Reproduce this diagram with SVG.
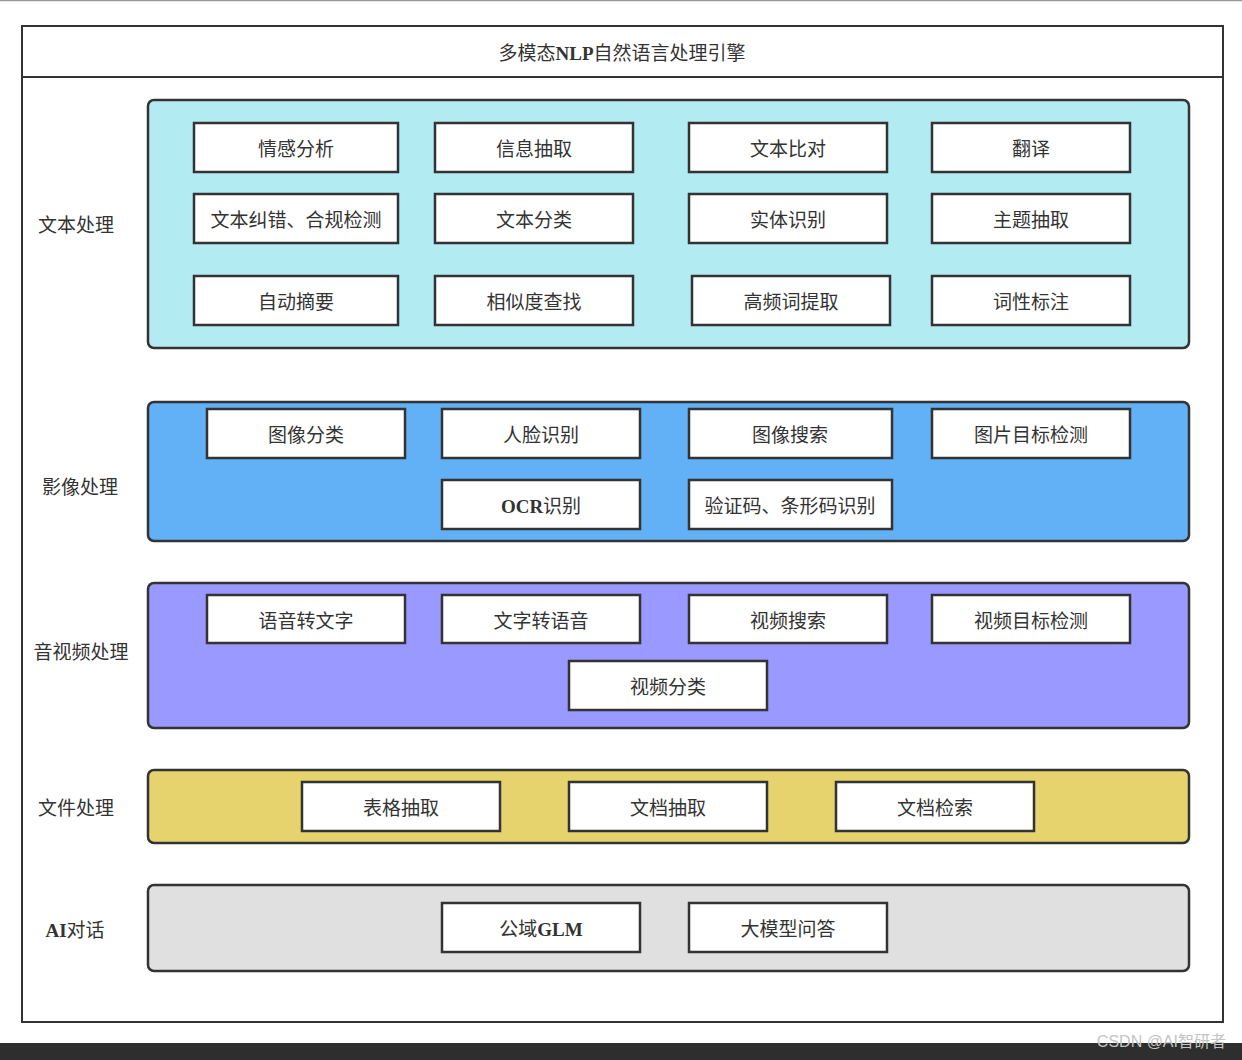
<svg xmlns="http://www.w3.org/2000/svg" width="1242" height="1060" viewBox="0 0 1242 1060">
<style>
text{font-family:"Liberation Serif","Noto Sans CJK SC",serif;font-size:19px;fill:#333;text-anchor:middle;dominant-baseline:central}
.lat{font-weight:bold}
.sec{stroke:#333;stroke-width:2.5}
.box{fill:#fff;stroke:#333;stroke-width:2.5}
.wm{font-family:"Liberation Sans","Noto Sans CJK SC",sans-serif;font-size:16px;fill:#c4c4c4;text-anchor:end}
</style>
<rect width="1242" height="1060" fill="#fff"/>
<line x1="0" y1="0.5" x2="1242" y2="0.5" stroke="#999" stroke-width="1.5"/>
<rect x="0" y="1043" width="1242" height="17" fill="#2e2e2e"/>
<g id="frame">
<rect x="22" y="26" width="1201" height="996" fill="none" stroke="#333" stroke-width="2"/>
<line x1="22" y1="77" x2="1223" y2="77" stroke="#333" stroke-width="2"/>
<text x="622" y="53">多模态<tspan class="lat">NLP</tspan>自然语言处理引擎</text>
</g>
<g id="sec-text">
<rect class="sec" x="148" y="100" width="1041" height="248" rx="6" fill="#b3ebf2"/>
<text x="76" y="225">文本处理</text>
</g>
<g id="sec-image">
<rect class="sec" x="148" y="402" width="1041" height="139" rx="6" fill="#62b0f5"/>
<text x="80" y="487">影像处理</text>
</g>
<g id="sec-av">
<rect class="sec" x="148" y="583" width="1041" height="145" rx="6" fill="#9999ff"/>
<text x="81" y="652">音视频处理</text>
</g>
<g id="sec-file">
<rect class="sec" x="148" y="770" width="1041" height="73" rx="6" fill="#e6d36e"/>
<text x="76" y="808">文件处理</text>
</g>
<g id="sec-ai">
<rect class="sec" x="148" y="885" width="1041" height="86" rx="6" fill="#e0e0e0"/>
<text x="75" y="930"><tspan class="lat">AI</tspan>对话</text>
</g>
<g id="n1"><rect class="box" x="194" y="123" width="204" height="49"/><text x="296" y="149">情感分析</text></g>
<g id="n2"><rect class="box" x="435" y="123" width="198" height="49"/><text x="534" y="149">信息抽取</text></g>
<g id="n3"><rect class="box" x="689" y="123" width="198" height="49"/><text x="788" y="149">文本比对</text></g>
<g id="n4"><rect class="box" x="932" y="123" width="198" height="49"/><text x="1031" y="149">翻译</text></g>
<g id="n5"><rect class="box" x="194" y="194" width="204" height="49"/><text x="296" y="220">文本纠错、合规检测</text></g>
<g id="n6"><rect class="box" x="435" y="194" width="198" height="49"/><text x="534" y="220">文本分类</text></g>
<g id="n7"><rect class="box" x="689" y="194" width="198" height="49"/><text x="788" y="220">实体识别</text></g>
<g id="n8"><rect class="box" x="932" y="194" width="198" height="49"/><text x="1031" y="220">主题抽取</text></g>
<g id="n9"><rect class="box" x="194" y="276" width="204" height="49"/><text x="296" y="302">自动摘要</text></g>
<g id="n10"><rect class="box" x="435" y="276" width="198" height="49"/><text x="534" y="302">相似度查找</text></g>
<g id="n11"><rect class="box" x="692" y="276" width="198" height="49"/><text x="791" y="302">高频词提取</text></g>
<g id="n12"><rect class="box" x="932" y="276" width="198" height="49"/><text x="1031" y="302">词性标注</text></g>
<g id="n13"><rect class="box" x="207" y="409" width="198" height="49"/><text x="306" y="435">图像分类</text></g>
<g id="n14"><rect class="box" x="442" y="409" width="198" height="49"/><text x="541" y="435">人脸识别</text></g>
<g id="n15"><rect class="box" x="689" y="409" width="203" height="49"/><text x="790" y="435">图像搜索</text></g>
<g id="n16"><rect class="box" x="932" y="409" width="198" height="49"/><text x="1031" y="435">图片目标检测</text></g>
<g id="n17"><rect class="box" x="442" y="480" width="198" height="49"/><text x="541" y="506"><tspan class="lat">OCR</tspan>识别</text></g>
<g id="n18"><rect class="box" x="689" y="480" width="203" height="49"/><text x="790" y="506">验证码、条形码识别</text></g>
<g id="n19"><rect class="box" x="207" y="595" width="198" height="48"/><text x="306" y="621">语音转文字</text></g>
<g id="n20"><rect class="box" x="442" y="595" width="198" height="48"/><text x="541" y="621">文字转语音</text></g>
<g id="n21"><rect class="box" x="689" y="595" width="198" height="48"/><text x="788" y="621">视频搜索</text></g>
<g id="n22"><rect class="box" x="932" y="595" width="198" height="48"/><text x="1031" y="621">视频目标检测</text></g>
<g id="n23"><rect class="box" x="569" y="661" width="198" height="49"/><text x="668" y="687">视频分类</text></g>
<g id="n24"><rect class="box" x="302" y="782" width="198" height="49"/><text x="401" y="808">表格抽取</text></g>
<g id="n25"><rect class="box" x="569" y="782" width="198" height="49"/><text x="668" y="808">文档抽取</text></g>
<g id="n26"><rect class="box" x="836" y="782" width="198" height="49"/><text x="935" y="808">文档检索</text></g>
<g id="n27"><rect class="box" x="442" y="903" width="198" height="49"/><text x="541" y="929">公域<tspan class="lat">GLM</tspan></text></g>
<g id="n28"><rect class="box" x="689" y="903" width="198" height="49"/><text x="788" y="929">大模型问答</text></g>
<g id="connectors"></g>
<text class="wm" x="1226" y="1041">CSDN @AI智研者</text>
</svg>
